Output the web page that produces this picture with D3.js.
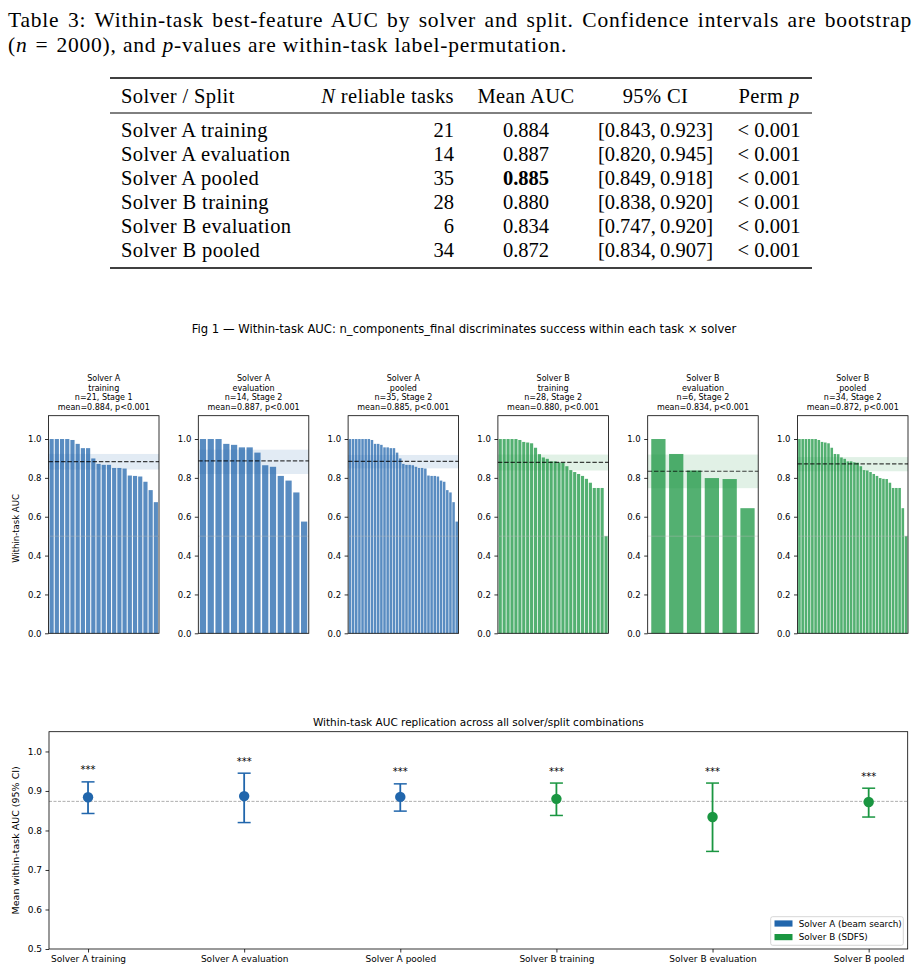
<!DOCTYPE html>
<html>
<head>
<meta charset="utf-8">
<script src="https://cdn.jsdelivr.net/npm/d3@7"></script>
<style>
  body { margin: 0; background: #fff; }
  svg text { font-family: "DejaVu Sans", sans-serif; }
  svg .tex text { font-family: "Liberation Serif", "Times New Roman", serif; }
  svg .tex .word { letter-spacing: 0.4px; }
  svg .tex .caption { letter-spacing: 0.8px; }
</style>
</head>
<body>
<div id="chart"></div>
<script>
'use strict';

// ---- data ----
const splits = ['Solver A training', 'Solver A evaluation', 'Solver A pooled',
    'Solver B training', 'Solver B evaluation', 'Solver B pooled'];
const solverOf = ['A', 'A', 'A', 'B', 'B', 'B'];
const splitShort = ['training', 'evaluation', 'pooled', 'training', 'evaluation', 'pooled'];
const nTasks = [21, 14, 35, 28, 6, 34];
const stages = [1, 2, 2, 2, 2, 2];
const meanAuc = [0.884, 0.887, 0.885, 0.880, 0.834, 0.872];
const boldMean = [false, false, true, false, false, false];
const ciLow = [0.843, 0.820, 0.849, 0.838, 0.747, 0.834];
const ciHigh = [0.923, 0.945, 0.918, 0.920, 0.920, 0.907];
const permP = ['< 0.001', '< 0.001', '< 0.001', '< 0.001', '< 0.001', '< 0.001'];

// per-task best-feature AUC, sorted descending
const aucATraining = [1.0, 1.0, 1.0, 1.0, 0.995, 0.975, 0.953, 0.953, 0.90, 0.872, 0.867,
    0.867, 0.851, 0.851, 0.848, 0.812, 0.81, 0.807, 0.78, 0.737, 0.675];
const aucAEvaluation = [1.0, 1.0, 1.0, 0.975, 0.97, 0.957, 0.957, 0.93, 0.865, 0.857,
    0.81, 0.786, 0.725, 0.575];
const aucAPooled = [1.0, 1.0, 1.0, 1.0, 1.0, 1.0, 1.0, 0.995, 0.975, 0.975, 0.97, 0.957,
    0.957, 0.953, 0.953, 0.93, 0.90, 0.872, 0.867, 0.867, 0.865, 0.857, 0.851, 0.851, 0.848,
    0.812, 0.81, 0.81, 0.807, 0.786, 0.78, 0.737, 0.725, 0.675, 0.575];
const aucBTraining = [1.0, 1.0, 1.0, 1.0, 1.0, 0.995, 0.985, 0.982, 0.978, 0.955, 0.922,
    0.905, 0.898, 0.885, 0.885, 0.88, 0.878, 0.86, 0.84, 0.83, 0.82, 0.81, 0.795, 0.775,
    0.748, 0.748, 0.748, 0.50];
const aucBEvaluation = [1.0, 0.923, 0.838, 0.799, 0.794, 0.644];
const aucBPooled = [1.0, 1.0, 1.0, 1.0, 1.0, 1.0, 0.995, 0.985, 0.982, 0.978, 0.955, 0.923,
    0.922, 0.905, 0.898, 0.885, 0.885, 0.88, 0.878, 0.86, 0.84, 0.838, 0.83, 0.82, 0.81,
    0.799, 0.795, 0.794, 0.775, 0.748, 0.748, 0.748, 0.644, 0.50];
const taskAuc = [aucATraining, aucAEvaluation, aucAPooled, aucBTraining, aucBEvaluation, aucBPooled];

const panelTicks = [0, 0.2, 0.4, 0.6, 0.8, 1.0];
const summaryTicks = [0.5, 0.6, 0.7, 0.8, 0.9, 1.0];
const legendLabels = ['Solver A (beam search)', 'Solver B (SDFS)'];

const colors = { A: '#2166ac', B: '#1a9641' };

const settings = { width: 920, height: 972, elId: '#chart' };

const svg = d3.select(settings.elId)
    .append('svg')
    .attr('width', settings.width)
    .attr('height', settings.height);

// ---- table (LaTeX-style) ----
const tbl = svg.append('g').attr('class', 'tex').attr('font-size', 20.5);

// caption, first line justified across the text width
const cap1 = tbl.append('text')
    .attr('class', 'caption')
    .attr('x', 8).attr('y', 27)
    .attr('font-size', 21.5)
    .text('Table 3: Within-task best-feature AUC by solver and split. Confidence intervals are bootstrap');
const natural = cap1.node().getComputedTextLength();
const gaps = cap1.text().split(' ').length - 1;
cap1.style('word-spacing', `${Math.max(0, (904 - natural) / gaps)}px`);

const cap2 = tbl.append('text').attr('class', 'caption').attr('x', 8).attr('y', 52).attr('font-size', 21.5);
cap2.append('tspan').text('(');
cap2.append('tspan').attr('font-style', 'italic').text('n');
cap2.append('tspan').text('\u2004=\u20042000), and ');
cap2.append('tspan').attr('font-style', 'italic').text('p');
cap2.append('tspan').text('-values are within-task label-permutation.');

const ruleX = [110, 812];
tbl.append('line').attr('x1', ruleX[0]).attr('x2', ruleX[1]).attr('y1', 78).attr('y2', 78)
    .attr('stroke', '#000').attr('stroke-width', 1.6);
tbl.append('line').attr('x1', ruleX[0]).attr('x2', ruleX[1]).attr('y1', 113).attr('y2', 113)
    .attr('stroke', '#000').attr('stroke-width', 1);
tbl.append('line').attr('x1', ruleX[0]).attr('x2', ruleX[1]).attr('y1', 268).attr('y2', 268)
    .attr('stroke', '#000').attr('stroke-width', 1.6);

const col = { name: 121, n: 454, mean: 526, ci: 655.5, p: 769 };
const headY = 103;
tbl.append('text').attr('class', 'word').attr('x', col.name).attr('y', headY).text('Solver / Split');
const hN = tbl.append('text').attr('class', 'word').attr('x', col.n).attr('y', headY).attr('text-anchor', 'end');
hN.append('tspan').attr('font-style', 'italic').text('N');
hN.append('tspan').text(' reliable tasks');
tbl.append('text').attr('class', 'word').attr('x', col.mean).attr('y', headY).attr('text-anchor', 'middle').text('Mean AUC');
tbl.append('text').attr('class', 'word').attr('x', col.ci).attr('y', headY).attr('text-anchor', 'middle').text('95% CI');
const hP = tbl.append('text').attr('class', 'word').attr('x', col.p).attr('y', headY).attr('text-anchor', 'middle');
hP.append('tspan').text('Perm ');
hP.append('tspan').attr('font-style', 'italic').text('p');

const rowY = d3.scaleLinear().domain([0, 1]).range([137, 161]);
splits.forEach((s, i) => {
    const y = rowY(i);
    tbl.append('text').attr('class', 'word').attr('x', col.name).attr('y', y).text(s);
    tbl.append('text').attr('x', col.n).attr('y', y).attr('text-anchor', 'end').text(nTasks[i]);
    tbl.append('text').attr('x', col.mean).attr('y', y).attr('text-anchor', 'middle')
        .attr('font-weight', boldMean[i] ? 'bold' : null)
        .text(d3.format('.3f')(meanAuc[i]));
    tbl.append('text').attr('x', col.ci).attr('y', y).attr('text-anchor', 'middle')
        .text(`[${d3.format('.3f')(ciLow[i])},\u2009${d3.format('.3f')(ciHigh[i])}]`);
    tbl.append('text').attr('x', col.p).attr('y', y).attr('text-anchor', 'middle')
        .text(permP[i].replace(' ', '\u2005'));
});

// ---- figure title ----
svg.append('text')
    .attr('x', 464).attr('y', 333)
    .attr('text-anchor', 'middle')
    .attr('font-size', 11.6)
    .text('Fig 1 \u2014 Within-task AUC: n_components_final discriminates success within each task \u00d7 solver');

// ---- small bar panels ----
const panel = { left: 48.5, step: 149.8, width: 110.5, top: 415.7, bottom: 633.3 };
const yPanel = d3.scaleLinear().domain([0, 1.12]).range([panel.bottom, panel.top]);

taskAuc.forEach((vals, i) => {
    const x0 = panel.left + i * panel.step;
    const x1 = x0 + panel.width;
    const c = colors[solverOf[i]];
    const g = svg.append('g');

    const x = d3.scaleBand()
        .domain(d3.range(vals.length))
        .range([x0, x1])
        .paddingInner(0.2)
        .paddingOuter(0.2);

    g.selectAll('rect.bar')
        .data(vals)
        .enter()
        .append('rect')
        .attr('class', 'bar')
        .attr('x', (_, j) => x(j))
        .attr('width', x.bandwidth())
        .attr('y', d => yPanel(d))
        .attr('height', d => yPanel(0) - yPanel(d))
        .attr('fill', c)
        .attr('fill-opacity', 0.75);

    // chance line
    g.append('line')
        .attr('x1', x0).attr('x2', x1)
        .attr('y1', yPanel(0.5)).attr('y2', yPanel(0.5))
        .attr('stroke', '#bbb').attr('stroke-opacity', 0.5).attr('stroke-width', 0.8);

    // CI band
    g.append('rect')
        .attr('x', x0).attr('width', panel.width)
        .attr('y', yPanel(ciHigh[i]))
        .attr('height', yPanel(ciLow[i]) - yPanel(ciHigh[i]))
        .attr('fill', c).attr('fill-opacity', 0.13);

    // mean line
    g.append('line')
        .attr('x1', x0).attr('x2', x1)
        .attr('y1', yPanel(meanAuc[i])).attr('y2', yPanel(meanAuc[i]))
        .attr('stroke', '#000').attr('stroke-opacity', 0.75)
        .attr('stroke-width', 1.2).attr('stroke-dasharray', '4.4,1.9');

    // frame
    g.append('rect')
        .attr('x', x0).attr('y', panel.top)
        .attr('width', panel.width).attr('height', panel.bottom - panel.top)
        .attr('fill', 'none').attr('stroke', '#000').attr('stroke-width', 0.8);

    const yAxis = g.append('g')
        .attr('transform', `translate(${x0},0)`)
        .call(d3.axisLeft(yPanel).tickValues(panelTicks).tickFormat(d3.format('.1f'))
            .tickSize(3.5).tickPadding(3.5));
    yAxis.select('.domain').remove();
    yAxis.selectAll('text').attr('font-size', 8.5).attr('font-family', 'DejaVu Sans').attr('fill', '#000');
    yAxis.selectAll('line').attr('stroke-width', 0.8);

    // title
    const cx = x0 + panel.width / 2;
    const lines = [`Solver ${solverOf[i]}`, splitShort[i], `n=${nTasks[i]}, Stage ${stages[i]}`,
        `mean=${d3.format('.3f')(meanAuc[i])}, p${permP[i].replace(' ', '')}`];
    lines.forEach((t, k) => {
        g.append('text')
            .attr('x', cx).attr('y', 381.3 + k * 9.4)
            .attr('text-anchor', 'middle')
            .attr('font-size', 8)
            .text(t);
    });
});

svg.append('text')
    .attr('transform', `translate(19,${(panel.top + panel.bottom) / 2 + 4}) rotate(-90)`)
    .attr('text-anchor', 'middle')
    .attr('font-size', 8.5)
    .text('Within-task AUC');

// ---- summary chart ----
const sum = { left: 49, right: 907.7, top: 731.7, bottom: 949 };
const xSum = d3.scaleLinear().domain([-0.25, 5.25]).range([sum.left, sum.right]);
const ySum = d3.scaleLinear().domain([0.5, 1.05]).range([sum.bottom, sum.top]);
const sg = svg.append('g');

sg.append('text')
    .attr('x', (sum.left + sum.right) / 2).attr('y', 725.5)
    .attr('text-anchor', 'middle')
    .attr('font-size', 10.5)
    .text('Within-task AUC replication across all solver/split combinations');

const grand = d3.mean(meanAuc);
sg.append('line')
    .attr('x1', sum.left).attr('x2', sum.right)
    .attr('y1', ySum(grand)).attr('y2', ySum(grand))
    .attr('stroke', '#999').attr('stroke-width', 0.8).attr('stroke-dasharray', '3,1.5');

splits.forEach((s, i) => {
    const c = colors[solverOf[i]];
    const cx = xSum(i);
    sg.append('line')
        .attr('x1', cx).attr('x2', cx)
        .attr('y1', ySum(ciLow[i])).attr('y2', ySum(ciHigh[i]))
        .attr('stroke', c).attr('stroke-width', 1.8);
    [ciLow[i], ciHigh[i]].forEach(v => {
        sg.append('line')
            .attr('x1', cx - 6.5).attr('x2', cx + 6.5)
            .attr('y1', ySum(v)).attr('y2', ySum(v))
            .attr('stroke', c).attr('stroke-width', 1.5);
    });
    sg.append('circle')
        .attr('cx', cx).attr('cy', ySum(meanAuc[i]))
        .attr('r', 5.2)
        .attr('fill', c);
    sg.append('text')
        .attr('x', cx).attr('y', ySum(ciHigh[i]) - 8.5)
        .attr('text-anchor', 'middle')
        .attr('font-size', 10)
        .text('***');
});

sg.append('rect')
    .attr('x', sum.left).attr('y', sum.top)
    .attr('width', sum.right - sum.left).attr('height', sum.bottom - sum.top)
    .attr('fill', 'none').attr('stroke', '#000').attr('stroke-width', 0.8);

const ySumAxis = sg.append('g')
    .attr('transform', `translate(${sum.left},0)`)
    .call(d3.axisLeft(ySum).tickValues(summaryTicks).tickFormat(d3.format('.1f'))
        .tickSize(3.5).tickPadding(3.5));
ySumAxis.select('.domain').remove();
ySumAxis.selectAll('text').attr('font-size', 9).attr('font-family', 'DejaVu Sans').attr('fill', '#000');
ySumAxis.selectAll('line').attr('stroke-width', 0.8);

const xSumAxis = sg.append('g')
    .attr('transform', `translate(0,${sum.bottom})`)
    .call(d3.axisBottom(xSum).tickValues(d3.range(splits.length)).tickFormat(i => splits[i])
        .tickSize(3.5).tickPadding(3.5));
xSumAxis.select('.domain').remove();
xSumAxis.selectAll('text').attr('font-size', 9).attr('font-family', 'DejaVu Sans').attr('fill', '#000');
xSumAxis.selectAll('line').attr('stroke-width', 0.8);

sg.append('text')
    .attr('transform', `translate(19,${(sum.top + sum.bottom) / 2}) rotate(-90)`)
    .attr('text-anchor', 'middle')
    .attr('font-size', 9.5)
    .text('Mean within-task AUC (95% CI)');

// legend
const lg = sg.append('g').attr('transform', 'translate(770.7,916.7)');
lg.append('rect')
    .attr('width', 132.6).attr('height', 28.6).attr('rx', 2)
    .attr('fill', '#fff').attr('fill-opacity', 0.8)
    .attr('stroke', '#ccc').attr('stroke-width', 0.8);
legendLabels.forEach((t, k) => {
    const c = colors[k === 0 ? 'A' : 'B'];
    lg.append('rect')
        .attr('x', 3.8).attr('y', 3.7 + k * 13.6)
        .attr('width', 18).attr('height', 6.2)
        .attr('fill', c);
    lg.append('text')
        .attr('x', 28).attr('y', 10 + k * 13.6)
        .attr('font-size', 8.8)
        .text(t);
});
</script>
</body>
</html>
